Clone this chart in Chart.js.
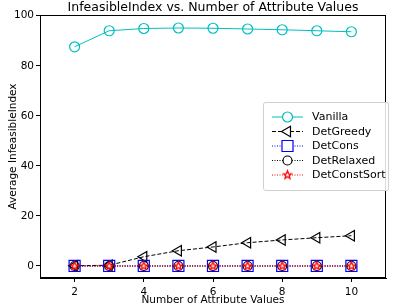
<!DOCTYPE html>
<html>
<head>
<meta charset="utf-8">
<script src="https://cdn.jsdelivr.net/npm/chart.js@4/dist/chart.umd.min.js"></script>
<style>
  html, body { margin: 0; padding: 0; background: #fff; }
  #wrap { width: 395px; height: 307px; position: relative; }
</style>
</head>
<body>
<div id="wrap"><canvas id="chart" width="395" height="307"></canvas></div>
<script>
// ---------- Data ----------
const attrValues = [2, 3, 4, 5, 6, 7, 8, 9, 10];
const vanilla = [87.6, 94.0, 94.9, 95.1, 95.0, 94.7, 94.4, 94.0, 93.6];
const detGreedy = [0.1, 0.3, 3.7, 6.1, 7.6, 9.3, 10.4, 11.3, 12.1];
const detCons = [0, 0, 0, 0, 0, 0, 0, 0, 0];
const detRelaxed = [0, 0, 0, 0, 0, 0, 0, 0, 0];
const detConstSort = [0, 0, 0, 0, 0, 0, 0, 0, 0];
const xTicks = [2, 4, 6, 8, 10];
const yTicks = [0, 20, 40, 60, 80, 100];

const FONT = "'DejaVu Sans', sans-serif";

// ---------- Star marker (matplotlib '*') ----------
function makeStar(r, stroke, fill) {
  const pad = 2;
  const c = document.createElement("canvas");
  c.width = c.height = Math.ceil(2 * r + 2 * pad);
  const g = c.getContext("2d");
  const cx = c.width / 2, cy = c.height / 2;
  g.beginPath();
  for (let i = 0; i < 10; i++) {
    const rad = i % 2 === 0 ? r : r * 0.42;
    const a = -Math.PI / 2 + i * Math.PI / 5;
    const px = cx + rad * Math.cos(a), py = cy + rad * Math.sin(a);
    if (i === 0) g.moveTo(px, py); else g.lineTo(px, py);
  }
  g.closePath();
  g.fillStyle = fill;
  g.fill();
  g.lineWidth = 1.3;
  g.strokeStyle = stroke;
  g.stroke();
  return c;
}
const starImg = makeStar(4.2, "#ff0000", "#ffffff");

function pts(ys) {
  return attrValues.map((x, i) => ({ x: x, y: ys[i] }));
}

const series = [
  { label: "Vanilla", data: vanilla, color: "#00bfbf", dash: [], style: "circle", r: 5, rot: 0 },
  { label: "DetGreedy", data: detGreedy, color: "#000000", dash: [4, 2], style: "triangle", r: 6, rot: -90 },
  { label: "DetCons", data: detCons, color: "#0000ff", dash: [1, 1.5], style: "rect", r: 7.8, rot: 0 },
  { label: "DetRelaxed", data: detRelaxed, color: "#000000", dash: [1, 1.5], style: "circle", r: 4.5, rot: 0 },
  { label: "DetConstSort", data: detConstSort, color: "#ff0000", dash: [1, 1.5], style: starImg, r: 4.5, rot: 0 }
];

// later series drawn on top, as in the original plot
const datasets = series.map((s, i) => ({
  label: s.label,
  data: pts(s.data),
  order: series.length - i,
  borderColor: s.color,
  borderWidth: 1,
  borderDash: s.dash,
  pointStyle: s.style,
  pointRadius: s.r,
  pointRotation: s.rot,
  pointBorderColor: s.color,
  pointBackgroundColor: "rgba(0,0,0,0)",
  pointBorderWidth: 1.2,
  tension: 0,
  fill: false
}));

// ---------- Plugins: frame, title, legend ----------
const framePlugin = {
  id: "frame",
  afterDatasetsDraw(chart) {
    const { ctx, chartArea: a } = chart;
    ctx.save();
    ctx.strokeStyle = "#000";
    ctx.lineWidth = 1;
    ctx.strokeRect(a.left + 0.5, a.top + 0.5, a.right - a.left - 1, a.bottom - a.top - 1);
    ctx.restore();
  },
  afterDraw(chart) {
    const { ctx, chartArea: a } = chart;
    ctx.save();
    ctx.fillStyle = "#000";
    ctx.font = "12.5px " + FONT;
    ctx.textAlign = "center";
    ctx.textBaseline = "alphabetic";
    ctx.fillText("InfeasibleIndex vs. Number of Attribute Values", (a.left + a.right) / 2, 11);

    // legend box
    const bx = 263, by = 102, bw = 125, bh = 88;
    ctx.fillStyle = "rgba(255,255,255,0.85)";
    ctx.strokeStyle = "#d0d0d0";
    ctx.lineWidth = 1;
    ctx.beginPath();
    ctx.roundRect(bx + 0.5, by + 0.5, bw, bh, 2);
    ctx.fill();
    ctx.stroke();
    series.forEach((s, i) => {
      const y = 117 + i * 14.5;
      ctx.save();
      ctx.strokeStyle = s.color;
      ctx.lineWidth = 1;
      ctx.setLineDash(s.dash);
      ctx.beginPath();
      ctx.moveTo(272, y);
      ctx.lineTo(303, y);
      ctx.stroke();
      ctx.setLineDash([]);
      ctx.lineWidth = 1.2;
      ctx.fillStyle = "#fff";
      Chart.helpers.drawPoint(ctx, {
        pointStyle: s.style, radius: s.r, rotation: s.rot, borderWidth: 1.2
      }, 287.5, y);
      ctx.restore();
      ctx.fillStyle = "#000";
      ctx.font = "11px " + FONT;
      ctx.textAlign = "left";
      ctx.textBaseline = "middle";
      ctx.fillText(s.label, 312, y + 0.5);
    });
    ctx.restore();
  }
};

// ---------- Chart ----------
const ctx = document.getElementById("chart").getContext("2d");
const chart = new Chart(ctx, {
  type: "line",
  data: { datasets },
  plugins: [framePlugin],
  options: {
    responsive: false,
    animation: false,
    layout: { padding: { top: 15, right: 2, left: 0, bottom: 0 } },
    plugins: { legend: { display: false }, title: { display: false }, tooltip: { enabled: false } },
    scales: {
      x: {
        type: "linear",
        min: 1,
        max: 11,
        afterBuildTicks: s => { s.ticks = xTicks.map(v => ({ value: v })); },
        afterFit: s => { s.height = 29; },
        grid: { drawOnChartArea: false, tickLength: 4, color: "#000" },
        border: { color: "#000" },
        ticks: { color: "#000", font: { family: FONT, size: 10.5 }, padding: 4, maxRotation: 0 },
        title: { display: true, text: "Number of Attribute Values", color: "#000", font: { family: FONT, size: 10.5 }, padding: { top: 0, bottom: 0 } }
      },
      y: {
        min: -4.8,
        max: 100.3,
        afterBuildTicks: s => { s.ticks = yTicks.map(v => ({ value: v })); },
        afterFit: s => { s.width = 40; },
        grid: { drawOnChartArea: false, tickLength: 4, color: "#000" },
        border: { color: "#000" },
        ticks: { color: "#000", font: { family: FONT, size: 10.5 }, padding: 2 },
        title: { display: true, text: "Average InfeasibleIndex", color: "#000", font: { family: FONT, size: 10.5 }, padding: { top: 7, bottom: 0 } }
      }
    }
  }
});
</script>
</body>
</html>
